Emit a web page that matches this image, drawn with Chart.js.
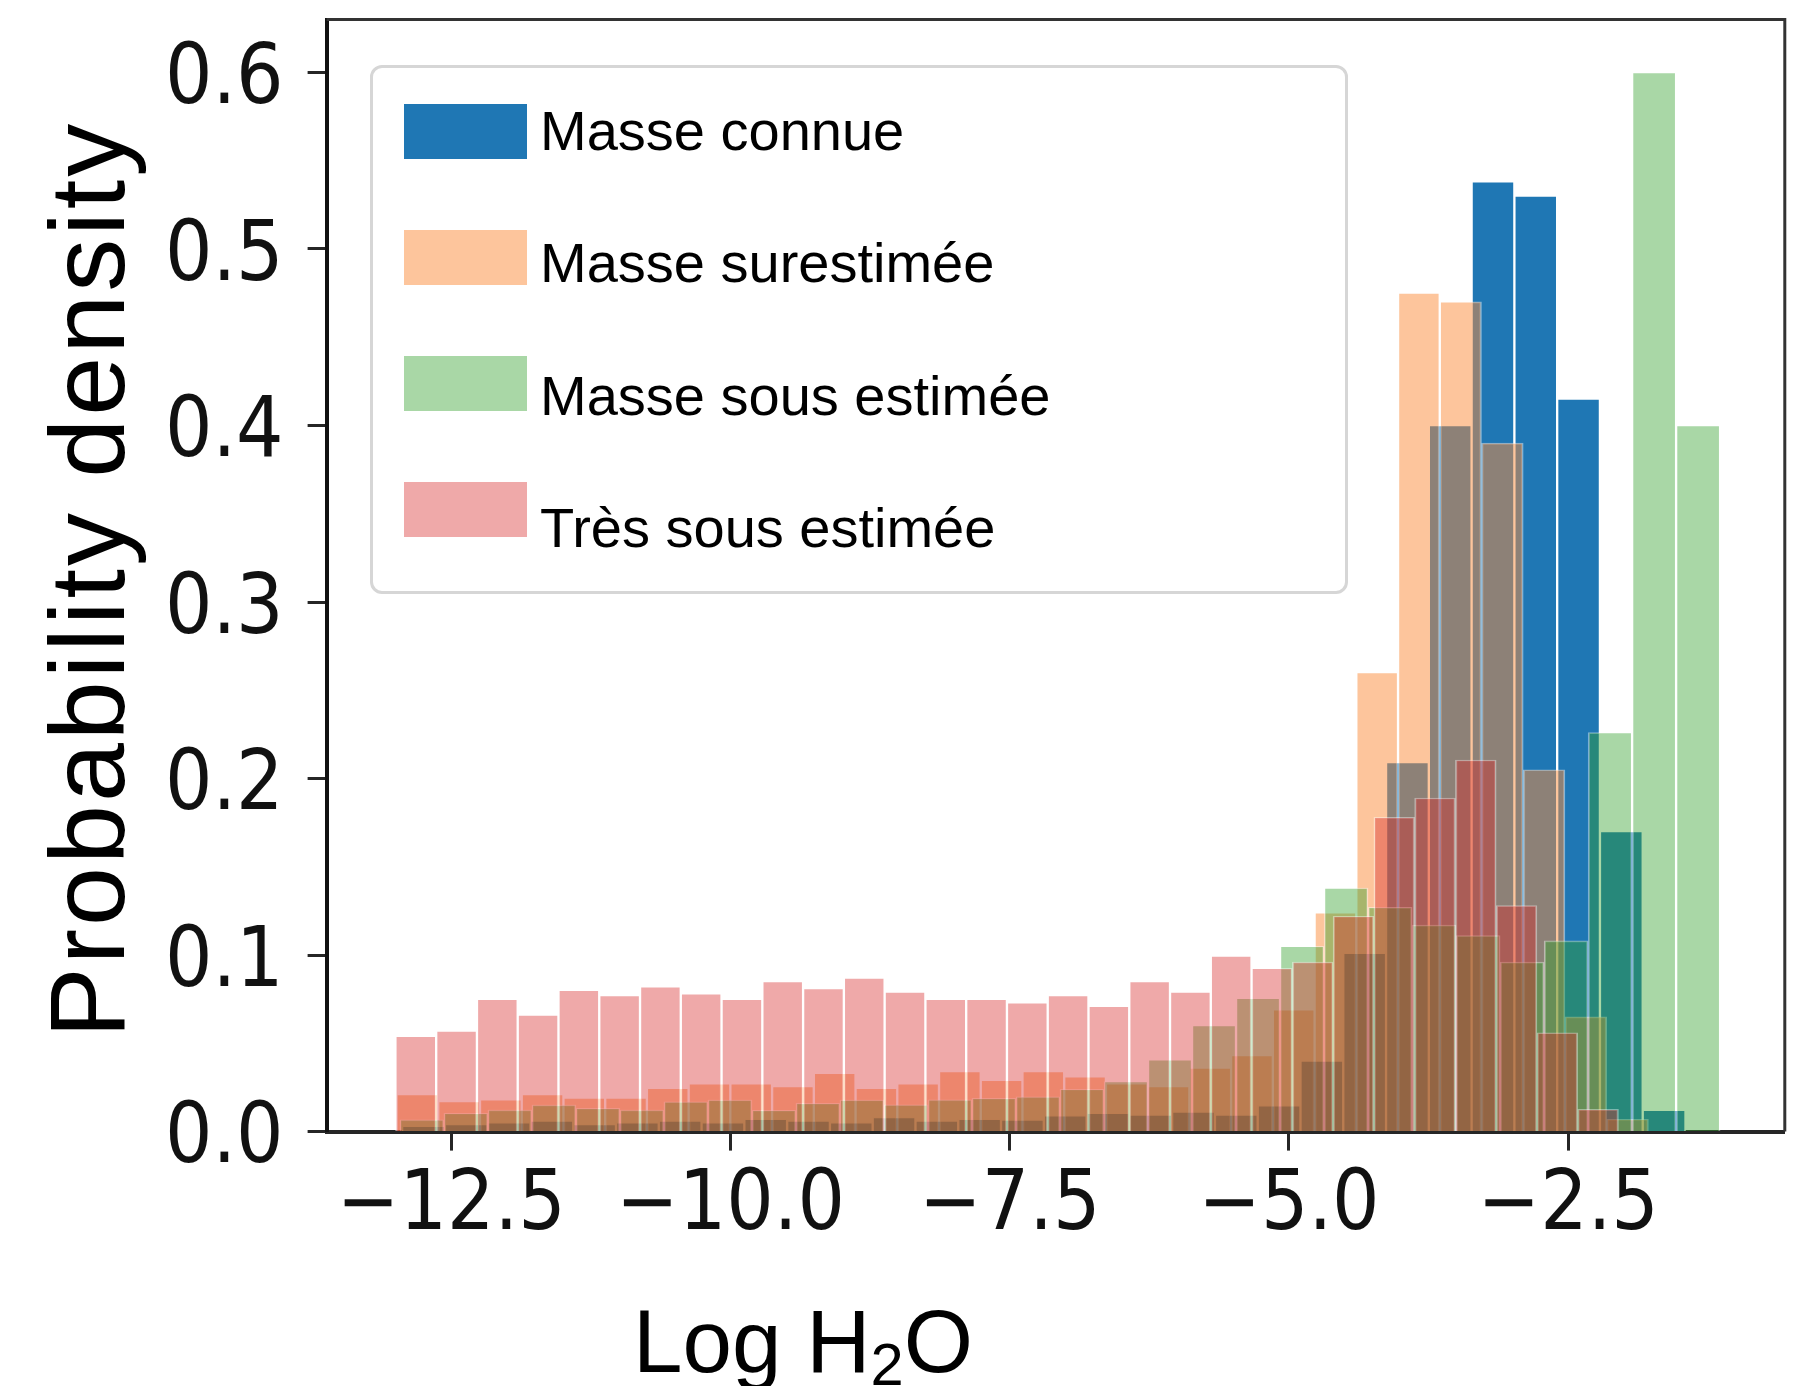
<!DOCTYPE html>
<html>
<head>
<meta charset="utf-8">
<script src="https://cdn.jsdelivr.net/npm/chart.js@4.4.1/dist/chart.umd.min.js"></script>
<style>
  html, body { margin: 0; padding: 0; background: #fff; }
  #wrap { position: relative; width: 1803px; height: 1386px; overflow: hidden; }
  #wrap canvas { position: absolute; left: 0; top: 0; }
  .ytitle {
    position: absolute; left: 34px; top: 1038px;
    transform-origin: 0 0; transform: rotate(-90deg);
    font: 106px "Liberation Sans", Arial, sans-serif; line-height: 1;
    letter-spacing: 3px; white-space: nowrap; color: #000;
  }
  .xtitle {
    position: absolute; left: 633px; top: 1297px;
    font: 89px "Liberation Sans", Arial, sans-serif; line-height: 1;
    white-space: nowrap; color: #000;
  }
  .xtitle sub { font-size: 0.67em; vertical-align: -13px; line-height: 0; }
  .legend {
    position: absolute; left: 370px; top: 65px; width: 972px; height: 523px;
    border: 3px solid #d6d6d6; border-radius: 12px; background: #fff;
  }
  .legend .item { display: flex; align-items: center; height: 126px; }
  .legend .patch { width: 123px; height: 55px; margin-left: 31px; flex: none; }
  .legend .label {
    margin-left: 13px; font: 56px "Liberation Sans", Arial, sans-serif;
    line-height: 1; color: #000; white-space: nowrap;
  }
</style>
</head>
<body>
<div id="wrap">
  <canvas id="hist"></canvas>
  <div class="legend" id="legend"></div>
  <div class="ytitle">Probability density</div>
  <div class="xtitle">Log H<sub>2</sub>O</div>
</div>
<script>
/* ─── données ─── */
const seriesNames = ['Masse connue', 'Masse surestimée', 'Masse sous estimée', 'Très sous estimée'];
const xTicks = [-12.5, -10, -7.5, -5, -2.5];
const yTicks = [0, 0.1, 0.2, 0.3, 0.4, 0.5, 0.6];

// chaque histogramme : premier bord de classe, largeur de classe, densité par classe
const blueStart = -12.94, blueWidth = 0.383;
const blueDensity = [0.003, 0.004, 0.005, 0.006, 0.004, 0.005, 0.006, 0.005, 0.007, 0.006,
  0.005, 0.008, 0.006, 0.007, 0.0065, 0.009, 0.0104, 0.0094, 0.011, 0.0094,
  0.0146, 0.040, 0.101, 0.209, 0.400, 0.538, 0.530, 0.415, 0.170, 0.012];

const orangeStart = -12.99, orangeWidth = 0.3736;
const orangeDensity = [0.021, 0.017, 0.018, 0.021, 0.019, 0.019, 0.0245, 0.027, 0.027, 0.0255,
  0.033, 0.0245, 0.027, 0.034, 0.029, 0.034, 0.031, 0.027, 0.0255, 0.036,
  0.043, 0.069, 0.124, 0.260, 0.475, 0.470, 0.390, 0.205, 0.065, 0.007];

const greenStart = -12.96, greenWidth = 0.394;
const greenDensity = [0.0066, 0.0104, 0.0122, 0.015, 0.0132, 0.0122, 0.0169, 0.0179, 0.012, 0.016,
  0.0179, 0.0152, 0.018, 0.0188, 0.0197, 0.024, 0.0283, 0.0406, 0.060, 0.0755,
  0.105, 0.138, 0.127, 0.117, 0.111, 0.096, 0.108, 0.226, 0.600, 0.400];

const redStart = -13.0, redWidth = 0.365;
const redDensity = [0.054, 0.057, 0.075, 0.066, 0.080, 0.077, 0.082, 0.078, 0.075, 0.085,
  0.081, 0.087, 0.079, 0.075, 0.075, 0.073, 0.077, 0.071, 0.085, 0.079,
  0.0995, 0.0925, 0.096, 0.122, 0.178, 0.189, 0.2105, 0.128, 0.056, 0.0126];

/* ─── styles / mise en page ─── */
const fills = ['#1f77b4', 'rgba(251,139,57,0.5)', 'rgba(50,160,44,0.42)', 'rgba(214,39,40,0.4)'];
const edges = ['#ffffff', 'rgba(255,255,255,0.45)', 'rgba(255,255,255,0.42)', 'rgba(255,255,255,0.4)'];
const tickFont = { family: '"DejaVu Sans Condensed", "DejaVu Sans", sans-serif', size: 83, lineHeight: 1.2 };
const xMin = -13.616, xMax = -0.561;
const pad = { top: 19.5, right: 18.2, bottom: 0, left: 0 };
const yAxisWidth = 326.6, xAxisHeight = 254.4;
const plotWidth = 1803 - yAxisWidth - pad.right;
const pxPerUnit = plotWidth / (xMax - xMin);

const bins = (start, width, density) => density.map((d, i) => ({ x: start + (i + 0.5) * width, y: d }));
const setTicks = values => scale => { scale.ticks = values.map(v => ({ value: v })); };
// taille fixe de l'axe, sans marge automatique pour les libellés
const fixSize = (key, size) => s => {
  s[key] = size;
  s.paddingTop = s.paddingBottom = s.paddingLeft = s.paddingRight = 0;
};

/* légende HTML dans le cadre */
const legendEl = document.getElementById('legend');
const textShift = [0, 6, 13, 19];
seriesNames.forEach((name, i) => {
  const item = document.createElement('div');
  item.className = 'item';
  item.innerHTML = `<div class="patch" style="background:${fills[i]}"></div>` +
    `<div class="label" style="transform:translateY(${textShift[i]}px)">${name}</div>`;
  legendEl.appendChild(item);
});

function histSet(i, start, width, density, order) {
  return {
    label: seriesNames[i], data: bins(start, width, density), order,
    backgroundColor: fills[i], borderColor: edges[i],
    borderWidth: { left: 1.5, right: 1.5, top: 1, bottom: 0 },
    grouped: false, barThickness: width * pxPerUnit,
  };
}

/* cadre haut / droite comme les spines matplotlib */
const frame = {
  id: 'frame',
  afterDraw(chart) {
    const { ctx, chartArea: a } = chart;
    ctx.save();
    ctx.strokeStyle = '#333';
    ctx.lineWidth = 3;
    ctx.beginPath();
    ctx.moveTo(a.left, a.top);
    ctx.lineTo(a.right, a.top);
    ctx.lineTo(a.right, a.bottom);
    ctx.stroke();
    ctx.restore();
  },
};

new Chart(document.getElementById('hist').getContext('2d'), {
  type: 'bar',
  data: {
    datasets: [
      histSet(0, blueStart, blueWidth, blueDensity, 4),
      histSet(1, orangeStart, orangeWidth, orangeDensity, 3),
      histSet(2, greenStart, greenWidth, greenDensity, 2),
      histSet(3, redStart, redWidth, redDensity, 1),
    ],
  },
  options: {
    responsive: true, maintainAspectRatio: false, animation: false, events: [],
    layout: { autoPadding: false, padding: pad },
    plugins: { legend: { display: false }, tooltip: { enabled: false } },
    scales: {
      x: {
        type: 'linear', position: 'bottom', min: xMin, max: xMax, offset: false, z: 1,
        afterBuildTicks: setTicks(xTicks),
        afterFit: fixSize('height', xAxisHeight),
        border: { color: '#262626', width: 4 },
        grid: { offset: false, drawOnChartArea: false, tickLength: 19, tickWidth: 3, tickColor: '#262626' },
        ticks: {
          color: '#111', font: tickFont, padding: 7, maxRotation: 0, autoSkip: false,
          callback: v => '\u2212' + Math.abs(v).toFixed(1),
        },
      },
      y: {
        position: 'left', min: 0, max: 0.63, z: 1,
        afterBuildTicks: setTicks(yTicks),
        afterFit: fixSize('width', yAxisWidth),
        border: { color: '#111', width: 4 },
        grid: { drawOnChartArea: false, tickLength: 19, tickWidth: 3, tickColor: '#262626' },
        ticks: { color: '#111', font: tickFont, padding: 24, labelOffset: 9, callback: v => v.toFixed(1) },
      },
    },
  },
  plugins: [frame],
});
</script>
</body>
</html>
